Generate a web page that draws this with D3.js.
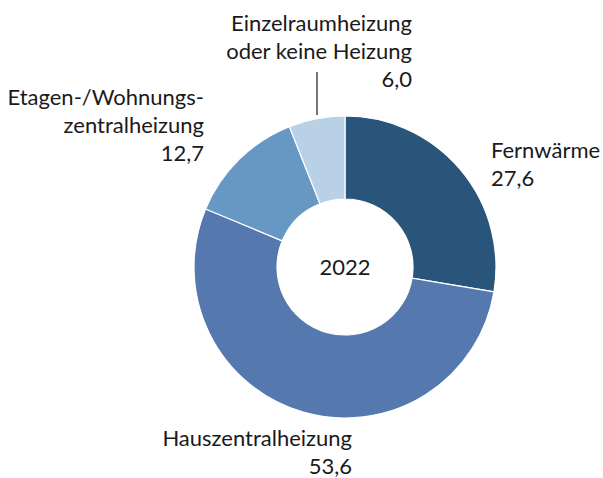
<!DOCTYPE html>
<html>
<head>
<meta charset="utf-8">
<script src="https://cdn.jsdelivr.net/npm/d3@7"></script>
<style>
  body { margin: 0; background: #fff; }
  text { font-family: Lato, "Liberation Sans", sans-serif; fill: #1a1a1a; }
</style>
</head>
<body>
<div class="chart"></div>
<script>
const categories = ['Fernwärme', 'Hauszentralheizung', 'Etagen-/Wohnungs-zentralheizung', 'Einzelraumheizung oder keine Heizung']
const values = [27.6, 53.6, 12.7, 6.0]
const valueLabels = ['27,6', '53,6', '12,7', '6,0']
const labelLines = [
    ['Fernwärme'],
    ['Hauszentralheizung'],
    ['Etagen-/Wohnungs-', 'zentralheizung'],
    ['Einzelraumheizung', 'oder keine Heizung']
]
const colors = ['#29557a', '#5579ae', '#6798c3', '#b9d1e6']
const centerLabel = '2022'

const width = 603
const height = 478
const cx = 345, cy = 267
const outer = 151, inner = 68

const svg = d3.select('.chart').append('svg').attr('width', width).attr('height', height)
const g = svg.append('g').attr('transform', `translate(${cx},${cy})`)

const data = categories.map((c, i) => ({name: c, value: values[i], i: i}))

const pie = d3.pie().value(d => d.value).sort(null)
const arc = d3.arc().innerRadius(inner).outerRadius(outer)

g.selectAll('path')
    .data(pie(data))
    .join('path')
    .attr('d', arc)
    .attr('fill', d => colors[d.data.i])
    .attr('stroke', '#fff')
    .attr('stroke-width', 1.2)

g.append('text')
    .attr('text-anchor', 'middle')
    .attr('dy', '0.35em')
    .attr('font-size', 22)
    .text(centerLabel)

// label placement (page coords), anchor, baseline of first line
const labelPos = [
    {x: 491, y: 158, anchor: 'start'},
    {x: 352, y: 446, anchor: 'end'},
    {x: 204, y: 105, anchor: 'end'},
    {x: 412, y: 31, anchor: 'end'}
]
const lh = 28

labelLines.forEach((lines, i) => {
    const p = labelPos[i]
    const t = svg.append('text')
        .attr('text-anchor', p.anchor)
        .attr('font-size', 22)
    lines.concat([valueLabels[i]]).forEach((l, j) => {
        t.append('tspan').attr('x', p.x).attr('y', p.y + j * lh).text(l)
    })
})

// leader line for the small slice
svg.append('line')
    .attr('x1', 317).attr('x2', 317)
    .attr('y1', 72).attr('y2', 115)
    .attr('stroke', '#1a1a1a')
    .attr('stroke-width', 1.2)
</script>
</body>
</html>
